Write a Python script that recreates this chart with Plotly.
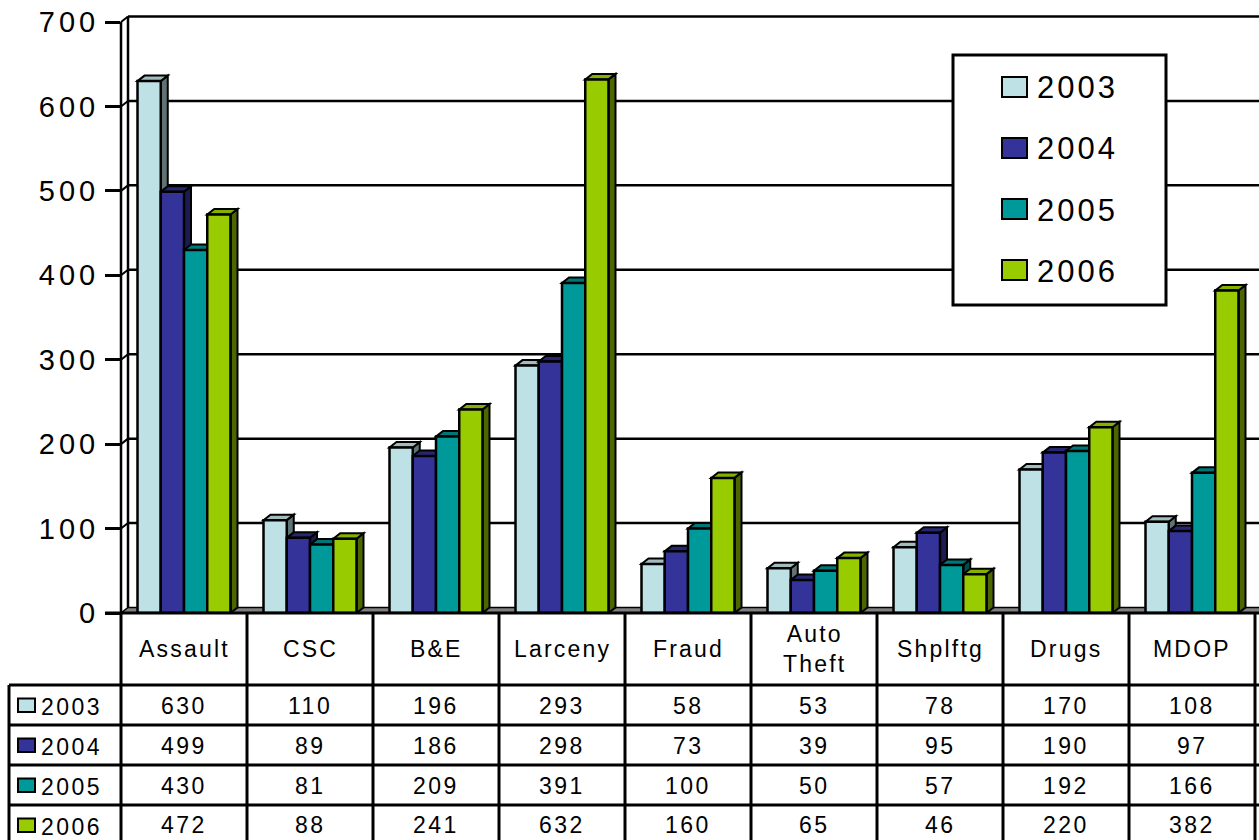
import plotly.graph_objects as go

# ---------------- data ----------------
categories = ["Assault", "CSC", "B&E", "Larceny", "Fraud", "Auto<br>Theft", "Shplftg", "Drugs", "MDOP"]
years = ["2003", "2004", "2005", "2006"]
v2003 = [630, 110, 196, 293, 58, 53, 78, 170, 108]
v2004 = [499, 89, 186, 298, 73, 39, 95, 190, 97]
v2005 = [430, 81, 209, 391, 100, 50, 57, 192, 166]
v2006 = [472, 88, 241, 632, 160, 65, 46, 220, 382]
series = [v2003, v2004, v2005, v2006]
y_ticks = [0, 100, 200, 300, 400, 500, 600, 700]

# ---------------- styles ----------------
front_colors = ["#BDE1E4", "#333399", "#009999", "#99CC00"]
top_colors = ["#A2BCBE", "#27276F", "#007777", "#84B000"]
side_colors = ["#5F7374", "#1C1C52", "#004C4C", "#4C6600"]
FONT = "Arial, 'Liberation Sans', sans-serif"

W, H = 1259, 840
L = 121            # left edge of plot (front plane)
CW = 126           # pixels per category
PW = CW * len(categories)
R = W - L - PW
Y0 = 613           # pixel of value 0 (front)
Y700 = 22          # pixel of value 700 (front)
PPU = (Y0 - Y700) / 700.0
T = 10
PH = Y0 - T
B = H - Y0
YMAX = PH / PPU

DXU = 7.0 / CW     # depth in x data units
DYU = 5.5 / PPU    # depth in y data units
BW = 23.25 / CW    # bar width (units)
G0 = -2 * BW       # first bar offset


def pxx(p):
    return (p - L) / PW


def pxy(p):
    return (Y0 - p) / PH


def dpx(x):  # data x -> paper x
    return (x + 0.5) / len(categories)


def sp(text, ls):
    return '<span style="letter-spacing:%gpx">%s</span>' % (ls, text)


fig = go.Figure()

# bars
for j, vals in enumerate(series):
    fig.add_trace(go.Bar(
        x=list(range(len(categories))), y=vals, width=BW, offset=G0 + j * BW,
        marker=dict(color=front_colors[j], line=dict(color="black", width=2.5)),
        name=years[j], showlegend=False, hoverinfo="skip"))

shapes = []
# back wall gridlines (and left wall diagonals)
for v in y_ticks[1:]:
    shapes.append(dict(type="line", xref="paper", yref="y", layer="below",
                       x0=dpx(-0.5 + DXU), x1=pxx(W + 5), y0=v + DYU, y1=v + DYU,
                       line=dict(color="black", width=2.5)))
    shapes.append(dict(type="line", xref="paper", yref="y", layer="below",
                       x0=dpx(-0.5), x1=dpx(-0.5 + DXU), y0=v, y1=v + DYU,
                       line=dict(color="black", width=2)))
# floor
shapes.append(dict(type="path", xref="paper", yref="y", layer="below",
                   path="M %f,0 L %f,0 L %f,%f L %f,%f Z" % (
                       dpx(-0.5), pxx(W + 5), pxx(W + 5), DYU, dpx(-0.5 + DXU), DYU),
                   fillcolor="#808080", line=dict(color="black", width=1.5)))
# left wall edges
shapes.append(dict(type="line", xref="paper", yref="y", layer="below",
                   x0=dpx(-0.5), x1=dpx(-0.5), y0=0, y1=700,
                   line=dict(color="black", width=2.5)))
shapes.append(dict(type="line", xref="paper", yref="y", layer="below",
                   x0=dpx(-0.5 + DXU), x1=dpx(-0.5 + DXU), y0=DYU, y1=700 + DYU,
                   line=dict(color="black", width=2.5)))

# 3D faces of bars
for j, vals in enumerate(series):
    for i, v in enumerate(vals):
        x0 = i + G0 + j * BW
        x1 = x0 + BW
        top = "M %f,%f L %f,%f L %f,%f L %f,%f Z" % (
            x0, v, x1, v, x1 + DXU, v + DYU, x0 + DXU, v + DYU)
        side = "M %f,%f L %f,%f L %f,%f L %f,%f Z" % (
            x1, 0, x1 + DXU, DYU, x1 + DXU, v + DYU, x1, v)
        shapes.append(dict(type="path", xref="x", yref="y", layer="below", path=side,
                           fillcolor=side_colors[j], line=dict(color="black", width=2)))
        shapes.append(dict(type="path", xref="x", yref="y", layer="below", path=top,
                           fillcolor=top_colors[j], line=dict(color="black", width=2)))

# ---------------- data table ----------------
row_lines = [685, 725, 765, 805]
row_centers = [705, 745, 785, 825]
TL = 9
LW = 3
# header top line (axis)
shapes.append(dict(type="line", xref="paper", yref="paper", layer="above",
                   x0=pxx(105), x1=pxx(W + 5), y0=0, y1=0, line=dict(color="black", width=LW)))
for y in row_lines:
    shapes.append(dict(type="line", xref="paper", yref="paper", layer="above",
                       x0=pxx(TL), x1=pxx(W + 5), y0=pxy(y), y1=pxy(y),
                       line=dict(color="black", width=LW)))
for k in range(len(categories) + 1):
    xk = dpx(k - 0.5)
    shapes.append(dict(type="line", xref="paper", yref="paper", layer="above",
                       x0=xk, x1=xk, y0=0, y1=pxy(H + 5), line=dict(color="black", width=LW)))
shapes.append(dict(type="line", xref="paper", yref="paper", layer="above",
                   x0=pxx(TL), x1=pxx(TL), y0=pxy(row_lines[0]), y1=pxy(H + 5),
                   line=dict(color="black", width=LW)))

annotations = []
for i, c in enumerate(categories):
    annotations.append(dict(x=dpx(i), y=pxy(649), xref="paper", yref="paper",
                            text=sp(c, 2.2), showarrow=False, xanchor="center", yanchor="middle",
                            font=dict(family=FONT, size=23, color="black")))
for j, vals in enumerate(series):
    yc = row_centers[j]
    for i, v in enumerate(vals):
        annotations.append(dict(x=dpx(i), y=pxy(yc + 0.5), xref="paper", yref="paper",
                                text=sp(str(v), 2.5), showarrow=False,
                                xanchor="center", yanchor="middle",
                                font=dict(family=FONT, size=23, color="black")))
    # row header: swatch + year
    shapes.append(dict(type="rect", xref="paper", yref="paper", layer="above",
                       x0=pxx(18), x1=pxx(35), y0=pxy(yc - 6.5), y1=pxy(yc + 7),
                       fillcolor=front_colors[j], line=dict(color="black", width=2)))
    annotations.append(dict(x=pxx(39), y=pxy(yc + 1.5), xref="paper", yref="paper",
                            text=sp(years[j], 2.5), showarrow=False,
                            xanchor="left", yanchor="middle",
                            font=dict(family=FONT, size=23, color="black")))

# ---------------- legend (manual) ----------------
shapes.append(dict(type="rect", xref="paper", yref="paper", layer="above",
                   x0=pxx(953), x1=pxx(1166), y0=pxy(55), y1=pxy(305),
                   fillcolor="white", line=dict(color="black", width=3)))
leg_centers = [87, 148, 209, 270]
for j, yc in enumerate(leg_centers):
    shapes.append(dict(type="rect", xref="paper", yref="paper", layer="above",
                       x0=pxx(1002), x1=pxx(1027), y0=pxy(yc - 10), y1=pxy(yc + 10),
                       fillcolor=front_colors[j], line=dict(color="black", width=2)))
    annotations.append(dict(x=pxx(1035), y=pxy(yc + 1), xref="paper", yref="paper",
                            text=sp(years[j], 3), showarrow=False,
                            xanchor="left", yanchor="middle",
                            font=dict(family=FONT, size=31, color="black")))

fig.update_layout(
    width=W, height=H,
    margin=dict(l=L, r=R, t=T, b=B, pad=0),
    paper_bgcolor="white", plot_bgcolor="white",
    barmode="overlay",
    showlegend=False,
    shapes=shapes, annotations=annotations,
    xaxis=dict(range=[-0.5, len(categories) - 0.5], visible=False, fixedrange=True),
    yaxis=dict(range=[0, YMAX], tickvals=y_ticks,
               ticktext=[sp(str(t), 4) for t in y_ticks],
               showgrid=False, zeroline=False, showline=False,
               ticks="outside", ticklen=15, tickwidth=2.5, tickcolor="black",
               tickfont=dict(family=FONT, size=29, color="black"), fixedrange=True),
)

fig.write_html("out.html", config={"displayModeBar": False},
               post_script="document.body.style.margin='0';document.body.style.overflow='hidden';")
